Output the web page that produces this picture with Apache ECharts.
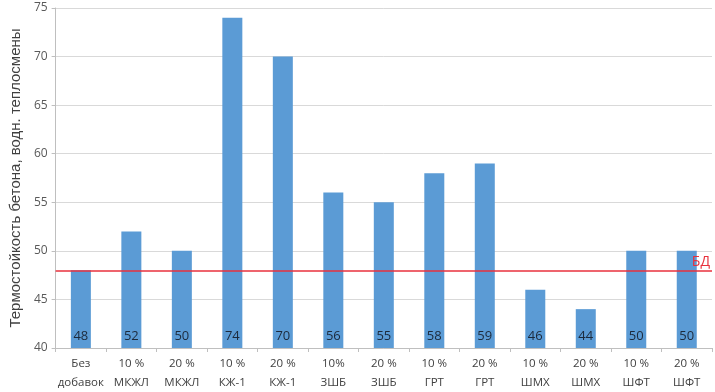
<!DOCTYPE html>
<html>
<head>
<meta charset="utf-8">
<script src="https://cdn.jsdelivr.net/npm/echarts@6/dist/echarts.min.js"></script>
<style>
  html, body { margin: 0; padding: 0; background: #fff; }
  #chart { width: 715px; height: 392px; }
</style>
</head>
<body>
<div id="chart"></div>
<script>
// категории (подписи оси X)
var categories = [
    'Без\nдобавок', '10 %\nМКЖЛ', '20 %\nМКЖЛ', '10 %\nКЖ-1', '20 %\nКЖ-1',
    '10%\nЗШБ', '20 %\nЗШБ', '10 %\nГРТ', '20 %\nГРТ', '10 %\nШМХ',
    '20 %\nШМХ', '10 %\nШФТ', '20 %\nШФТ'
];
// термостойкость, водн. теплосмены
var values = [48, 52, 50, 74, 70, 56, 55, 58, 59, 46, 44, 50, 50];
// базовый уровень (БД)
var baseLevel = 48;
var baseLabel = 'БД';
var yMin = 40, yMax = 75, yStep = 5;
var yName = 'Термостойкость бетона, водн. теплосмены';

var myChart = echarts.init(document.getElementById('chart'));
myChart.setOption({
    animation: false,
    grid: {
        left: 52,
        right: 3,
        top: 8,
        bottom: 44
    },
    xAxis: {
        type: 'category',
        data: categories,
        axisLine: { lineStyle: { color: '#bfbfbf' } },
        axisTick: { show: true, length: 4, lineStyle: { color: '#bfbfbf' } },
        axisLabel: {
            color: '#404040',
            fontSize: 11.5,
            fontFamily: 'Open Sans',
            lineHeight: 19,
            margin: 6,
            interval: 0
        }
    },
    yAxis: {
        type: 'value',
        min: yMin,
        max: yMax,
        interval: yStep,
        name: yName,
        nameLocation: 'middle',
        nameGap: 30,
        nameTextStyle: {
            color: '#404040',
            fontSize: 15,
            fontFamily: 'Liberation Sans'
        },
        axisLine: { show: true, lineStyle: { color: '#bfbfbf' } },
        axisTick: { show: true, length: 4, lineStyle: { color: '#bfbfbf' } },
        axisLabel: {
            color: '#595959',
            fontSize: 12,
            fontFamily: 'Open Sans',
            margin: 8
        },
        splitLine: { lineStyle: { color: '#d9d9d9' } }
    },
    series: [
        {
            type: 'bar',
            data: values,
            barWidth: 20,
            itemStyle: { color: '#5b9bd5' },
            label: {
                show: true,
                position: 'insideBottom',
                distance: 5,
                color: '#1c2a3c',
                fontSize: 13,
                fontFamily: 'Open Sans'
            },
            markLine: {
                silent: true,
                symbol: 'none',
                lineStyle: { color: '#e8303c', width: 1.5, type: 'solid' },
                label: {
                    show: true,
                    position: 'insideEndTop',
                    formatter: baseLabel,
                    color: '#e8303c',
                    fontSize: 14,
                    fontFamily: 'Open Sans',
                    distance: [2, 1]
                },
                data: [{ yAxis: baseLevel }]
            }
        }
    ]
});
window.addEventListener('resize', function () {
    myChart.resize();
});
</script>
</body>
</html>
